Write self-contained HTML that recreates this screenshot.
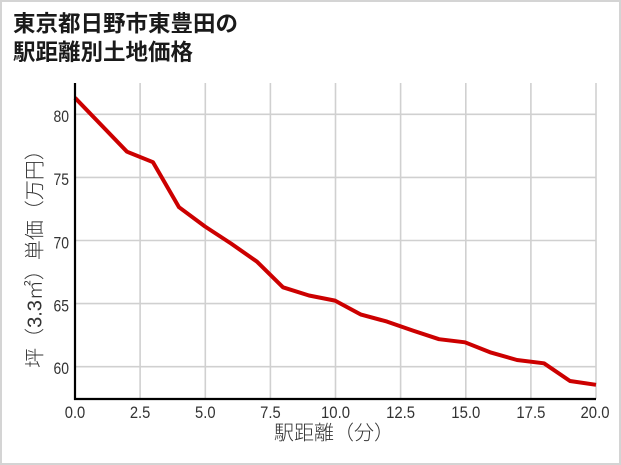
<!DOCTYPE html>
<html>
<head>
<meta charset="utf-8">
<style>
html,body{margin:0;padding:0;background:#fff;}
svg{display:block;}
.t{font-family:"Liberation Sans Narrow","Liberation Sans",sans-serif;font-size:16.5px;fill:#333;}
.cj{font-family:"Liberation Sans","Noto Sans CJK JP",sans-serif;}
</style>
</head>
<body>
<svg width="621" height="465" viewBox="0 0 621 465" xmlns="http://www.w3.org/2000/svg">
  <rect x="1" y="1" width="619" height="463" fill="#fff" stroke="#d4d4d4" stroke-width="2"/>
  <!-- title -->
  <text class="cj" x="13" y="31.5" font-size="22.5" font-weight="bold" fill="#1a1a1a">東京都日野市東豊田の</text>
  <text class="cj" x="13" y="60" font-size="22.5" font-weight="bold" fill="#1a1a1a">駅距離別土地価格</text>

  <!-- grid -->
  <g stroke="#d0d0d0" stroke-width="1.6">
    <line x1="75" y1="114.3" x2="596" y2="114.3"/>
    <line x1="75" y1="177.4" x2="596" y2="177.4"/>
    <line x1="75" y1="240.5" x2="596" y2="240.5"/>
    <line x1="75" y1="303.6" x2="596" y2="303.6"/>
    <line x1="75" y1="366.7" x2="596" y2="366.7"/>
    <line x1="140.1" y1="83" x2="140.1" y2="399"/>
    <line x1="205.3" y1="83" x2="205.3" y2="399"/>
    <line x1="270.4" y1="83" x2="270.4" y2="399"/>
    <line x1="335.5" y1="83" x2="335.5" y2="399"/>
    <line x1="400.6" y1="83" x2="400.6" y2="399"/>
    <line x1="465.8" y1="83" x2="465.8" y2="399"/>
    <line x1="530.9" y1="83" x2="530.9" y2="399"/>
    <line x1="596" y1="83" x2="596" y2="399"/>
  </g>

  <!-- data line -->
  <polyline fill="none" stroke="#cc0000" stroke-width="4" stroke-linejoin="round" stroke-linecap="butt"
    points="75,97.8 127,151.7 153,162.2 179,207.2 205,226.5 231,243.5 257,261.7 283,287.3 309,295.5 335,300.6 361,314.6 387,321.6 413,330.6 439,339.2 465,342.3 491,352.6 517,360 544,363.3 570,381 596,384.8"/>

  <!-- axes -->
  <line x1="75" y1="83" x2="75" y2="400" stroke="#000" stroke-width="2.2"/>
  <line x1="74" y1="399" x2="596" y2="399" stroke="#000" stroke-width="2.2"/>

  <!-- y tick labels -->
  <g class="t" text-anchor="end">
    <text x="69" y="122" textLength="15.5" lengthAdjust="spacingAndGlyphs">80</text>
    <text x="69" y="185.2" textLength="15.5" lengthAdjust="spacingAndGlyphs">75</text>
    <text x="69" y="248.3" textLength="15.5" lengthAdjust="spacingAndGlyphs">70</text>
    <text x="69" y="311.4" textLength="15.5" lengthAdjust="spacingAndGlyphs">65</text>
    <text x="69" y="374" textLength="15.5" lengthAdjust="spacingAndGlyphs">60</text>
  </g>

  <!-- x tick labels -->
  <g class="t" text-anchor="middle">
    <text x="75" y="418" textLength="20.5" lengthAdjust="spacingAndGlyphs">0.0</text>
    <text x="140.1" y="418" textLength="20.5" lengthAdjust="spacingAndGlyphs">2.5</text>
    <text x="205.3" y="418" textLength="20.5" lengthAdjust="spacingAndGlyphs">5.0</text>
    <text x="270.4" y="418" textLength="20.5" lengthAdjust="spacingAndGlyphs">7.5</text>
    <text x="335.5" y="418" textLength="29" lengthAdjust="spacingAndGlyphs">10.0</text>
    <text x="400.6" y="418" textLength="29" lengthAdjust="spacingAndGlyphs">12.5</text>
    <text x="465.8" y="418" textLength="29" lengthAdjust="spacingAndGlyphs">15.0</text>
    <text x="530.9" y="418" textLength="29" lengthAdjust="spacingAndGlyphs">17.5</text>
    <text x="595" y="418" textLength="29" lengthAdjust="spacingAndGlyphs">20.0</text>
  </g>

  <!-- axis titles -->
  <text class="cj" x="334" y="439.5" font-size="20" fill="#333" text-anchor="middle" font-weight="300">駅距離（分）</text>
  <text class="cj" transform="translate(41.5,254) rotate(-90)" x="0" y="0" font-size="20" fill="#333" text-anchor="middle" font-weight="300">坪（3.3㎡）単価（万円）</text>
</svg>
</body>
</html>
